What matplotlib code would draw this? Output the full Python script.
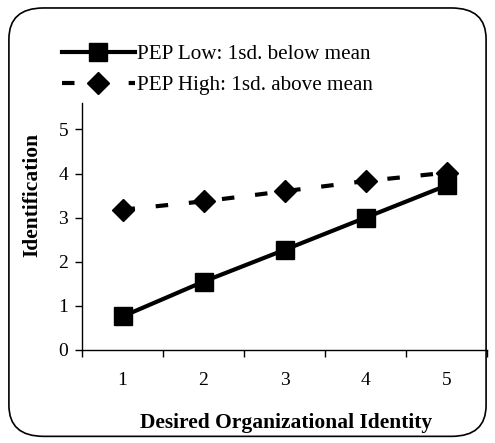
import matplotlib
matplotlib.use("Agg")
import matplotlib.pyplot as plt
from matplotlib.patches import FancyBboxPatch

categories = [1, 2, 3, 4, 5]
pep_low = [0.76, 1.55, 2.27, 3.0, 3.73]
pep_high = [3.18, 3.37, 3.6, 3.83, 4.02]
yticks = [0, 1, 2, 3, 4, 5]

plt.rcParams['font.family'] = ['Liberation Serif', 'DejaVu Serif']

fig = plt.figure(figsize=(4.95, 4.43), dpi=100)
ax = fig.add_axes([0.1657, 0.21, 0.8183, 0.5575])

ax.plot(categories, pep_low, color='black', lw=3, marker='s', markersize=13.5,
        label='PEP Low: 1sd. below mean')
ax.plot(categories, pep_high, color='black', lw=3, marker='D', markersize=11,
        dashes=(3, 5), label='PEP High: 1sd. above mean')

ax.set_xlim(0.5, 5.5)
ax.set_ylim(0, 5.6)
ax.set_yticks(yticks)
ax.set_xticks(categories)
ax.set_xticks([c - 0.5 for c in categories] + [5.5], minor=True)
ax.tick_params(axis='x', which='major', length=0, pad=16, labelsize=14)
ax.tick_params(axis='x', which='minor', length=5, direction='out', width=1)
ax.tick_params(axis='y', length=5, direction='out', labelsize=14, width=1, pad=5)
for s in ['top', 'right']:
    ax.spines[s].set_visible(False)
for s in ['left', 'bottom']:
    ax.spines[s].set_linewidth(1)
ax.set_xlabel('Desired Organizational Identity', fontsize=15.5, fontweight='bold')
ax.set_ylabel('Identification', fontsize=15.5, fontweight='bold')
ax.xaxis.set_label_coords(0.504, -0.255)
ax.yaxis.set_label_coords(-0.098, 0.627)

handles, labels = ax.get_legend_handles_labels()
leg = fig.legend(handles, labels, loc='upper left', bbox_to_anchor=(0.108, 0.919),
                 frameon=False, fontsize=15.2, handlelength=3.45, handletextpad=0.1,
                 labelspacing=0.55, borderaxespad=0)

border = FancyBboxPatch((0.018, 0.015), 0.964, 0.967, boxstyle='round,pad=0,rounding_size=0.07',
                        transform=fig.transFigure, fill=False, edgecolor='black', lw=1.2)
fig.patches.append(border)

fig.savefig('out.png', dpi=100)
